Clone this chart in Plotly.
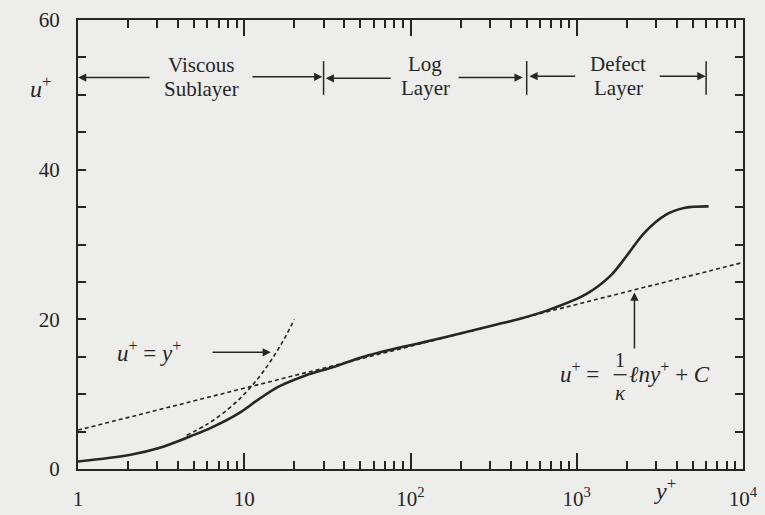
import plotly.graph_objects as go

# ---- data ----
yplus_profile = [1, 2.07, 3.07, 4.78, 6.3, 9.2, 12.2, 16.1, 23.4, 34, 56, 141, 330, 451, 686, 1146, 1592, 2014, 2558, 3390, 4486, 6210]
u_profile = [1.0, 1.9, 2.8, 4.4, 5.5, 7.4, 9.3, 11.0, 12.5, 13.6, 15.2, 17.3, 19.3, 20.05, 21.3, 23.4, 25.8, 28.6, 31.6, 33.9, 34.9, 35.1]

yplus_linear = [4.5, 6, 8, 10, 12, 14, 16, 18, 20]
u_linear = [4.5, 6, 8, 10, 12, 14, 16, 18, 20]

yplus_loglaw = [1, 10000]
u_loglaw = [5.2, 27.6]

x_tickvals = [1, 10, 100, 1000, 10000]
x_ticktext = ["1", "10", "10<sup>2</sup>", "10<sup>3</sup>", "10<sup>4</sup>"]
x_minor = [m * d for d in [1, 10, 100, 1000] for m in range(2, 10)]
y_tickvals = [0, 20, 40, 60]
y_ticktext = ["0", "20", "40", "60"]

region_bounds = [30, 500, 6000]   # boundaries between layers (y+)

INK = "#262626"
BG = "#ededeb"
SERIF = "Liberation Serif"

fig = go.Figure()
fig.add_trace(go.Scatter(x=yplus_loglaw, y=u_loglaw, mode="lines",
                         line=dict(color=INK, width=1.6, dash="4px,3px")))
fig.add_trace(go.Scatter(x=yplus_linear, y=u_linear, mode="lines",
                         line=dict(color=INK, width=1.6, dash="4px,3px", shape="spline")))
fig.add_trace(go.Scatter(x=yplus_profile, y=u_profile, mode="lines",
                         line=dict(color=INK, width=2.6, shape="spline", smoothing=1.0)))

ann = []
def text(x, y, t, size=21, xanchor="center", xref="x", yref="y"):
    ann.append(dict(x=x, y=y, text=t, showarrow=False, xref=xref, yref=yref,
                    xanchor=xanchor, yanchor="middle",
                    font=dict(family=SERIF, size=size, color=INK)))

def arrow(x_tip, y_tip, x_tail, y_tail, head=2):
    ann.append(dict(x=x_tip, y=y_tip, ax=x_tail, ay=y_tail, xref="x", yref="y",
                    axref="x", ayref="y", text="", showarrow=True,
                    arrowhead=head, arrowsize=1.1, arrowwidth=1.5, arrowcolor=INK,
                    standoff=0, startstandoff=0))

# layer labels
text(0.74, 54.0, "Viscous")
text(0.74, 50.8, "Sublayer")
text(2.09, 54.1, "Log")
text(2.09, 50.9, "Layer")
text(3.25, 54.1, "Defect")
text(3.25, 50.9, "Layer")

# layer arrows (log10 x units)
arrow(0.0, 52.3, 0.44, 52.3)
arrow(1.47, 52.4, 1.04, 52.4)
arrow(1.49, 52.2, 1.89, 52.2)
arrow(2.675, 52.3, 2.28, 52.3)
arrow(2.715, 52.5, 3.0, 52.5)
arrow(3.775, 52.5, 3.49, 52.5)

# u+ = y+ label
text(0.425, 15.7, "<i>u</i><sup>+</sup> = <i>y</i><sup>+</sup>", size=23)
arrow(1.16, 15.6, 0.80, 15.6)

# log-law label
text(3.143, 12.9, "<i>u</i><sup>+</sup> =", size=23, xanchor="right")
text(3.262, 14.6, "1", size=20)
text(3.262, 10.1, "<i>κ</i>", size=21)
text(3.30, 12.9, "<i>ℓny</i><sup>+</sup> + <i>C</i>", size=23, xanchor="left")
arrow(3.347, 23.6, 3.347, 15.9)

# axis titles
text(-0.057, 0.85, "<i>u</i><sup>+</sup>", size=24, xref="paper", yref="paper")
ann.append(dict(x=3.53, y=-0.045, xref="x", yref="paper", text="<i>y</i><sup>+</sup>",
                showarrow=False, yanchor="middle",
                font=dict(family=SERIF, size=24, color=INK)))

shapes = []
for b in region_bounds:
    shapes.append(dict(type="line", xref="x", yref="y", x0=b, x1=b, y0=50.0, y1=54.5,
                       line=dict(color=INK, width=1.5)))
# fraction bar of 1/kappa
shapes.append(dict(type="line", xref="x", yref="y", x0=10**3.222, x1=10**3.30,
                   y0=12.6, y1=12.6, line=dict(color=INK, width=1.3)))

fig.update_layout(
    width=765, height=515,
    margin=dict(l=78, r=22, t=20, b=46),
    paper_bgcolor=BG, plot_bgcolor=BG,
    showlegend=False,
    annotations=ann, shapes=shapes,
    font=dict(family=SERIF, size=20, color=INK),
    xaxis=dict(type="log", range=[0, 4], showgrid=False, zeroline=False,
               automargin=False,
               showline=True, linewidth=2.2, linecolor=INK, mirror="ticks",
               ticks="inside", ticklen=16, tickwidth=1.6, tickcolor=INK,
               tickvals=x_tickvals, ticktext=x_ticktext,
               tickfont=dict(family=SERIF, size=21, color=INK),
               ticklabelstandoff=10,
               minor=dict(ticks="inside", tickvals=x_minor, ticklen=8,
                          tickwidth=1.6, tickcolor=INK, showgrid=False)),
    yaxis=dict(range=[0, 60], showgrid=False, zeroline=False,
               automargin=False,
               showline=True, linewidth=2.2, linecolor=INK, mirror="ticks",
               ticks="inside", ticklen=8, tickwidth=1.6, tickcolor=INK,
               tickvals=y_tickvals, ticktext=y_ticktext,
               tickfont=dict(family=SERIF, size=21, color=INK),
               ticklabelstandoff=12,
               minor=dict(ticks="inside", dtick=5, ticklen=8,
                          tickwidth=1.6, tickcolor=INK, showgrid=False)),
)

fig.write_html("out.html")
